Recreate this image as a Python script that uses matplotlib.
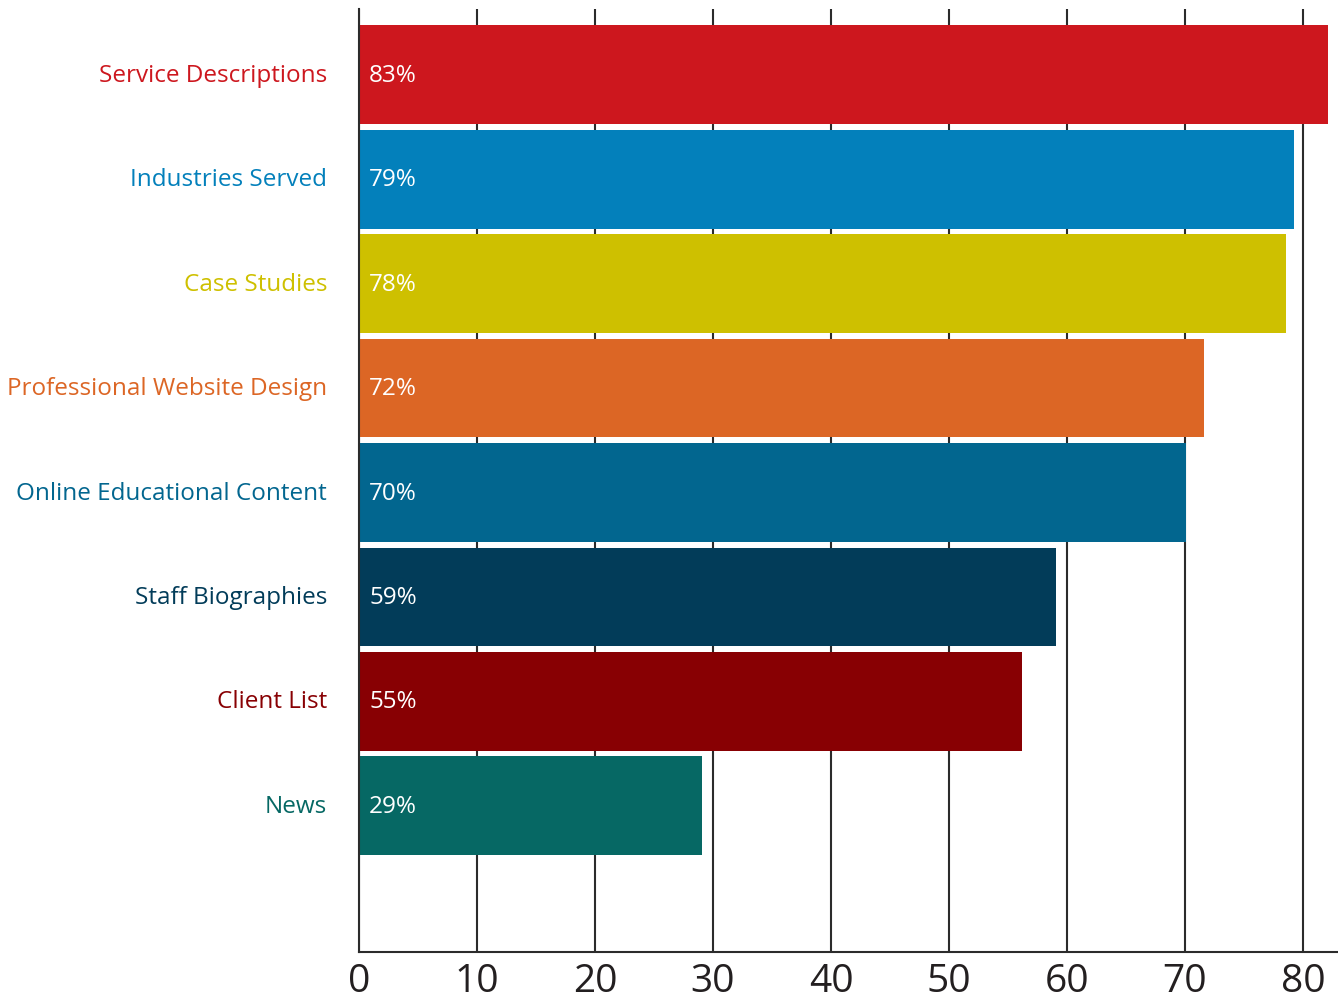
import matplotlib
matplotlib.use("Agg")
import matplotlib.pyplot as plt

# data
categories = [
    "Service Descriptions",
    "Industries Served",
    "Case Studies",
    "Professional Website Design",
    "Online Educational Content",
    "Staff Biographies",
    "Client List",
    "News",
]
bar_values = [82.1, 79.2, 78.6, 71.6, 70.1, 59.1, 56.2, 29.1]
value_labels = ["83%", "79%", "78%", "72%", "70%", "59%", "55%", "29%"]
colors = ["#CD171E", "#0380BB", "#CEC000", "#DC6625",
          "#02668F", "#023C59", "#880003", "#066864"]
x_ticks = [0, 10, 20, 30, 40, 50, 60, 70, 80]

plt.rcParams["font.family"] = ["Open Sans", "DejaVu Sans"]

fig = plt.figure(figsize=(13.38, 10.04), dpi=100)
fig.patch.set_facecolor("white")

# axes box in pixels: x 359..1338, y 10..953
W, H = 1338, 1004
ax = fig.add_axes([359 / W, (H - 953) / H, (W - 359) / W, (953 - 10) / H])

ypos = list(range(len(categories)))
ax.barh(ypos, bar_values, height=0.946, color=colors, zorder=2)

ax.set_xlim(0, (W - 359) / 11.8)
ax.set_ylim(8.40, -0.63)

# vertical grid behind the bars
for t in x_ticks:
    ax.axvline(t, color="#2b2b2b", lw=1.5, zorder=1)

for s in ["top", "right"]:
    ax.spines[s].set_visible(False)
for s in ["left", "bottom"]:
    ax.spines[s].set_color("#2b2b2b")
    ax.spines[s].set_linewidth(1.5)

ax.set_xticks(x_ticks)
ax.set_xticklabels([str(t) for t in x_ticks], fontsize=28, color="#231f20")
ax.tick_params(axis="x", length=0, pad=7)
ax.set_yticks([])

for y, cat, col, lab in zip(ypos, categories, colors, value_labels):
    ax.text(-2.7, y, cat, ha="right", va="center", fontsize=17.5, color=col)
    ax.text(0.85, y, lab, ha="left", va="center", fontsize=17.5, color="white", zorder=3)

fig.savefig("out.png", dpi=100)
plt.close(fig)
